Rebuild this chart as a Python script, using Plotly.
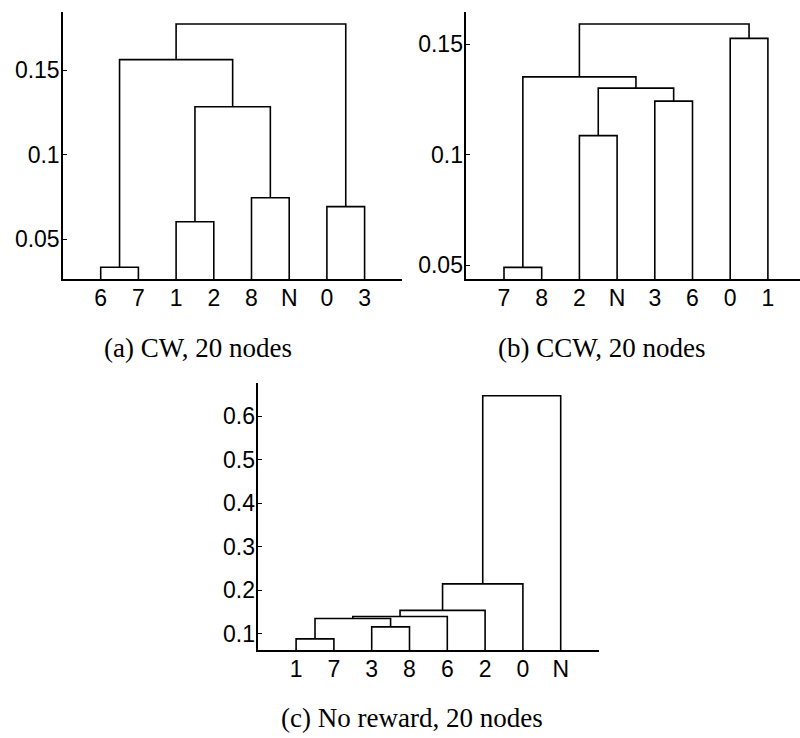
import plotly.graph_objects as go

W, H = 800, 738

# ---- data ----
leaves_a = ["6", "7", "1", "2", "8", "N", "0", "3"]
merges_a = [(0, 1), (2, 3), (4, 5), (6, 7), (9, 10), (8, 12), (13, 11)]
heights_a = [0.0334, 0.0604, 0.0746, 0.0693, 0.1284, 0.1563, 0.1774]

leaves_b = ["7", "8", "2", "N", "3", "6", "0", "1"]
merges_b = [(0, 1), (2, 3), (4, 5), (9, 10), (8, 11), (6, 7), (12, 13)]
heights_b = [0.0491, 0.1087, 0.1243, 0.1302, 0.1353, 0.1527, 0.1592]

leaves_c = ["1", "7", "3", "8", "6", "2", "0", "N"]
merges_c = [(0, 1), (2, 3), (8, 9), (10, 4), (11, 5), (12, 6), (13, 7)]
heights_c = [0.0885, 0.116, 0.1353, 0.140, 0.154, 0.2148, 0.647]

yticks_a = [0.05, 0.1, 0.15]
yticks_b = [0.05, 0.1, 0.15]
yticks_c = [0.1, 0.2, 0.3, 0.4, 0.5, 0.6]

captions = ["(a) CW, 20 nodes", "(b) CCW, 20 nodes", "(c) No reward, 20 nodes"]


def dendro_xy(leaves, merges, heights, ybase):
    n = len(leaves)
    pos = {i: i + 1 for i in range(n)}
    hgt = {i: ybase for i in range(n)}
    xs, ys = [], []
    for k, ((a, b), h) in enumerate(zip(merges, heights)):
        xa, xb = pos[a], pos[b]
        xs += [xa, xa, xb, xb, None]
        ys += [hgt[a], h, h, hgt[b], None]
        pos[n + k] = (xa + xb) / 2
        hgt[n + k] = h
    return xs, ys


fig = go.Figure()

step = 37.7
panels = [
    dict(x0=63, x1=63 + 9 * step, yt=12.3, yb=279.3, xr=[0, 9], yr=[0.0263, 0.1843],
         leaves=leaves_a, merges=merges_a, heights=heights_a, yt_vals=yticks_a),
    dict(x0=466.3, x1=800, yt=12.3, yb=279.3, xr=[0, (800 - 466.3) / step], yr=[0.0437, 0.1645],
         leaves=leaves_b, merges=merges_b, heights=heights_b, yt_vals=yticks_b),
    dict(x0=258.3, x1=258.3 + 9 * 37.8, yt=383.3, yb=650.3, xr=[0, 9], yr=[0.0622, 0.6755],
         leaves=leaves_c, merges=merges_c, heights=heights_c, yt_vals=yticks_c),
]

font = dict(family="Liberation Sans, Arial, sans-serif", size=23, color="black")

for i, p in enumerate(panels):
    sfx = "" if i == 0 else str(i + 1)
    xs, ys = dendro_xy(p["leaves"], p["merges"], p["heights"], p["yr"][0])
    fig.add_trace(go.Scatter(x=xs, y=ys, mode="lines",
                             line=dict(color="black", width=1.6),
                             xaxis="x" + sfx, yaxis="y" + sfx,
                             showlegend=False, hoverinfo="skip", cliponaxis=False))
    xdom = [p["x0"] / W, min(p["x1"] / W, 1.0)]
    ydom = [1 - p["yb"] / H, 1 - p["yt"] / H]
    fig.update_layout(**{
        "xaxis" + sfx: dict(domain=xdom, range=p["xr"], anchor="y" + sfx,
                            showline=True, linecolor="black", linewidth=1.5,
                            showgrid=False, zeroline=False, ticks="",
                            tickvals=list(range(1, len(p["leaves"]) + 1)),
                            ticktext=p["leaves"], tickfont=font,
                            ticklabelstandoff=-3, fixedrange=True),
        "yaxis" + sfx: dict(domain=ydom, range=p["yr"], anchor="x" + sfx,
                            showline=True, linecolor="black", linewidth=1.5,
                            showgrid=False, zeroline=False, ticks="inside",
                            ticklen=4, tickwidth=1, tickcolor="black",
                            tickvals=p["yt_vals"],
                            ticktext=[("%g" % v) for v in p["yt_vals"]],
                            tickfont=font, ticklabelstandoff=-3, fixedrange=True),
    })

cap_font = dict(family="Liberation Serif, Times New Roman, serif", size=27, color="black")
cap_pos = [(198, 348), (602, 348), (412, 718)]
for txt, (cx, cy) in zip(captions, cap_pos):
    fig.add_annotation(text=txt, x=cx / W, y=1 - cy / H, xref="paper", yref="paper",
                       showarrow=False, font=cap_font, xanchor="center", yanchor="middle")

fig.update_layout(width=W, height=H, margin=dict(l=0, r=0, t=0, b=0),
                  paper_bgcolor="white", plot_bgcolor="white")

fig.write_html("out.html")
